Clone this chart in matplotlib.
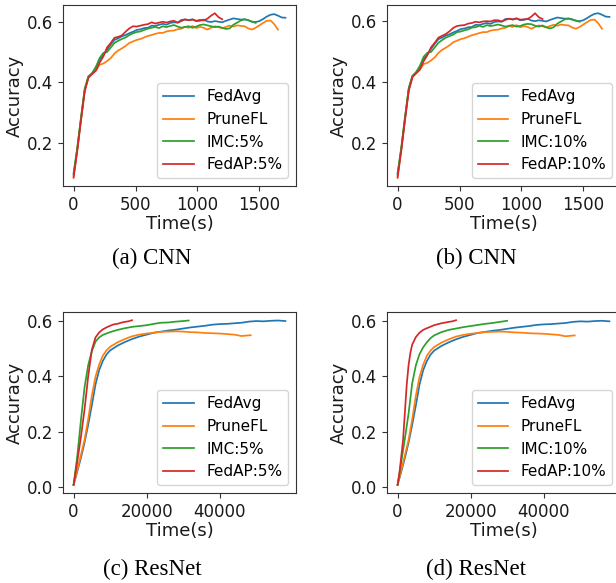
import matplotlib
matplotlib.use("Agg")
import matplotlib.pyplot as plt

# CNN runs, sampled every 30 s
cnn_t = [0, 30, 60, 90, 120, 150, 180, 210, 240, 270, 300, 330, 360, 390, 420,
         450, 480, 510, 540, 570, 600, 630, 660, 690, 720, 750, 780, 810, 840,
         870, 900, 930, 960, 990, 1020, 1050, 1080, 1110, 1140, 1170, 1200, 1230,
         1260, 1290, 1320, 1350, 1380, 1410, 1440, 1470, 1500, 1530, 1560, 1590,
         1620, 1650, 1680, 1710]
cnn_fedavg = [0.095, 0.18, 0.28, 0.375, 0.418, 0.43, 0.45, 0.475, 0.49, 0.508,
              0.525, 0.54, 0.545, 0.552, 0.556, 0.562, 0.567, 0.573, 0.575, 0.579,
              0.58, 0.587, 0.586, 0.59, 0.593, 0.59, 0.596, 0.598, 0.597, 0.606,
              0.607, 0.605, 0.608, 0.602, 0.603, 0.607, 0.601, 0.599, 0.602, 0.600,
              0.598, 0.603, 0.607, 0.611, 0.609, 0.607, 0.608, 0.605, 0.600, 0.599,
              0.602, 0.609, 0.617, 0.623, 0.625, 0.62, 0.614, 0.613]
cnn_prunefl = [0.09, 0.18, 0.28, 0.375, 0.418, 0.428, 0.44, 0.458, 0.462, 0.47,
               0.48, 0.495, 0.505, 0.512, 0.52, 0.53, 0.535, 0.54, 0.543, 0.548,
               0.553, 0.556, 0.56, 0.563, 0.563, 0.568, 0.57, 0.571, 0.575, 0.577,
               0.583, 0.58, 0.586, 0.579, 0.583, 0.58, 0.574, 0.58, 0.585, 0.582,
               0.578, 0.583, 0.587, 0.584, 0.588, 0.586, 0.585, 0.578, 0.574, 0.58,
               0.588, 0.596, 0.603, 0.604, 0.592, 0.574]
cnn_imc5 = [0.10, 0.185, 0.285, 0.38, 0.42, 0.43, 0.45, 0.48, 0.497, 0.50, 0.515,
            0.53, 0.537, 0.543, 0.548, 0.556, 0.562, 0.566, 0.568, 0.573, 0.577,
            0.58, 0.583, 0.579, 0.585, 0.582, 0.586, 0.589, 0.584, 0.58, 0.583,
            0.585, 0.58, 0.584, 0.589, 0.591, 0.588, 0.585, 0.582, 0.584, 0.58,
            0.576, 0.578, 0.59, 0.597, 0.604, 0.608, 0.605, 0.6, 0.596]
cnn_fedap5 = [0.085, 0.175, 0.275, 0.37, 0.415, 0.428, 0.438, 0.465, 0.485, 0.515,
              0.53, 0.547, 0.55, 0.555, 0.567, 0.578, 0.585, 0.584, 0.587, 0.59,
              0.592, 0.598, 0.594, 0.597, 0.6, 0.597, 0.601, 0.603, 0.597, 0.602,
              0.608, 0.605, 0.607, 0.603, 0.606, 0.604, 0.61, 0.62, 0.628, 0.615,
              0.608]
cnn_imc10 = [0.10, 0.185, 0.285, 0.38, 0.42, 0.432, 0.452, 0.482, 0.495, 0.498,
             0.513, 0.528, 0.537, 0.545, 0.55, 0.555, 0.563, 0.565, 0.569, 0.572,
             0.578, 0.579, 0.584, 0.58, 0.586, 0.583, 0.585, 0.588, 0.585, 0.581,
             0.584, 0.586, 0.581, 0.583, 0.588, 0.59, 0.589, 0.584, 0.581, 0.585,
             0.579, 0.575, 0.579, 0.591, 0.598, 0.605, 0.607, 0.604, 0.601, 0.597]
cnn_fedap10 = [0.085, 0.175, 0.275, 0.37, 0.415, 0.428, 0.44, 0.467, 0.487, 0.513,
               0.528, 0.545, 0.551, 0.557, 0.566, 0.577, 0.583, 0.585, 0.586, 0.591,
               0.593, 0.597, 0.595, 0.598, 0.599, 0.598, 0.602, 0.602, 0.598, 0.603,
               0.607, 0.604, 0.608, 0.604, 0.605, 0.606, 0.614, 0.625, 0.612, 0.606]

# ResNet runs
rn_fedavg_t = [0, 1000, 2000, 3000, 4000, 5000, 6000, 7000, 8000, 9000, 10000,
               12000, 14000, 16000, 18000, 20000, 22000, 24000, 26000, 28000,
               30000, 32000, 34000, 36000, 38000, 40000, 42000, 44000, 46000,
               48000, 50000, 52000, 54000, 56000, 58000]
rn_fedavg = [0.008, 0.055, 0.105, 0.16, 0.225, 0.295, 0.37, 0.422, 0.455, 0.478,
             0.493, 0.51, 0.523, 0.534, 0.543, 0.55, 0.557, 0.561, 0.565, 0.568,
             0.572, 0.576, 0.579, 0.582, 0.586, 0.588, 0.589, 0.591, 0.593, 0.597,
             0.599, 0.598, 0.600, 0.601, 0.599]
rn_prunefl_t = [0, 1000, 2000, 3000, 4000, 5000, 6000, 7000, 8000, 9000, 10000,
                12000, 14000, 16000, 18000, 20000, 22000, 24000, 26000, 28000,
                30000, 32000, 34000, 36000, 38000, 40000, 42000, 44000, 46000,
                48500]
rn_prunefl = [0.008, 0.06, 0.115, 0.17, 0.245, 0.33, 0.398, 0.442, 0.474, 0.493,
              0.506, 0.522, 0.534, 0.544, 0.55, 0.554, 0.557, 0.56, 0.561, 0.562,
              0.561, 0.559, 0.558, 0.556, 0.555, 0.554, 0.552, 0.55, 0.545, 0.548]
rn_imc5_t = [0, 1000, 2000, 3000, 4000, 5000, 6000, 7000, 8000, 10000, 12000,
             14000, 16000, 18000, 20000, 22000, 24000, 26000, 28000, 30000, 31500]
rn_imc5 = [0.008, 0.11, 0.24, 0.36, 0.44, 0.49, 0.525, 0.54, 0.549, 0.559, 0.567,
           0.573, 0.578, 0.581, 0.584, 0.589, 0.593, 0.594, 0.597, 0.599, 0.601]
rn_fedap5_t = [0, 1000, 2000, 3000, 4000, 5000, 6000, 7000, 8000, 9000, 10000,
               11000, 12000, 13000, 14000, 15000, 16000]
rn_fedap5 = [0.008, 0.09, 0.18, 0.28, 0.40, 0.495, 0.54, 0.558, 0.569, 0.576,
             0.582, 0.587, 0.589, 0.593, 0.596, 0.598, 0.602]
rn_imc10_t = [0, 1000, 2000, 3000, 4000, 5000, 6000, 7000, 8000, 9000, 10000,
              12000, 14000, 16000, 18000, 20000, 22000, 24000, 26000, 28000, 30000]
rn_imc10 = [0.008, 0.09, 0.175, 0.265, 0.375, 0.44, 0.48, 0.505, 0.523, 0.538,
            0.548, 0.56, 0.568, 0.573, 0.578, 0.582, 0.586, 0.59, 0.593, 0.597, 0.601]
rn_fedap10_t = [0, 500, 1000, 1500, 2000, 2500, 3000, 3500, 4000, 5000, 6000,
                7000, 8000, 10000, 12000, 14000, 15000, 16000]
rn_fedap10 = [0.008, 0.05, 0.11, 0.17, 0.27, 0.37, 0.44, 0.485, 0.515, 0.542,
              0.558, 0.568, 0.574, 0.585, 0.592, 0.597, 0.599, 0.603]

W, H = 616, 583
fig = plt.figure(figsize=(W / 100, H / 100), dpi=100)


def labels_for(caption):
    pct = "5%" if caption.startswith("(a)") or caption.startswith("(c)") else "10%"
    return ["FedAvg", "PruneFL", "IMC:" + pct, "FedAP:" + pct]


def panel(left, top, series, xticks, yticks, caption, cap_x, cap_y):
    ax = fig.add_axes([left / W, 1 - (top + 181) / H, 233 / W, 181 / H])
    for (t, v), lab, c in zip(series, labels_for(caption), ["C0", "C1", "C2", "C3"]):
        ax.plot(t, v, color=c, lw=1.25, label=lab)
    ax.set_xticks(xticks)
    ax.set_yticks(yticks)
    ax.tick_params(labelsize=12, color="#333333", labelcolor="#1a1a1a")
    for s in ax.spines.values():
        s.set_color("#333333")
    ax.set_xlabel("Time(s)", fontsize=13, labelpad=1, color="#1a1a1a")
    ax.set_ylabel("Accuracy", fontsize=13, labelpad=2, color="#1a1a1a")
    ax.legend(loc="lower right", fontsize=11)
    fig.text(cap_x / W, 1 - cap_y / H, caption, ha="center", va="center",
             fontsize=16.5, family="Liberation Serif")
    return ax


panel(63, 5, [(cnn_t[:len(cnn_fedavg)], cnn_fedavg),
              (cnn_t[:len(cnn_prunefl)], cnn_prunefl),
              (cnn_t[:len(cnn_imc5)], cnn_imc5),
              (cnn_t[:len(cnn_fedap5)], cnn_fedap5)],
      [0, 500, 1000, 1500], [0.2, 0.4, 0.6], "(a) CNN", 152, 258)
panel(387, 5, [(cnn_t[:len(cnn_fedavg)], cnn_fedavg),
               (cnn_t[:len(cnn_prunefl)], cnn_prunefl),
               (cnn_t[:len(cnn_imc10)], cnn_imc10),
               (cnn_t[:len(cnn_fedap10)], cnn_fedap10)],
      [0, 500, 1000, 1500], [0.2, 0.4, 0.6], "(b) CNN", 476, 258)
panel(63, 312, [(rn_fedavg_t, rn_fedavg), (rn_prunefl_t, rn_prunefl),
                (rn_imc5_t, rn_imc5), (rn_fedap5_t, rn_fedap5)],
      [0, 20000, 40000], [0.0, 0.2, 0.4, 0.6], "(c) ResNet", 152, 569)
panel(387, 312, [(rn_fedavg_t, rn_fedavg), (rn_prunefl_t, rn_prunefl),
                 (rn_imc10_t, rn_imc10), (rn_fedap10_t, rn_fedap10)],
      [0, 20000, 40000], [0.0, 0.2, 0.4, 0.6], "(d) ResNet", 476, 569)

fig.savefig("out.png", dpi=100)
